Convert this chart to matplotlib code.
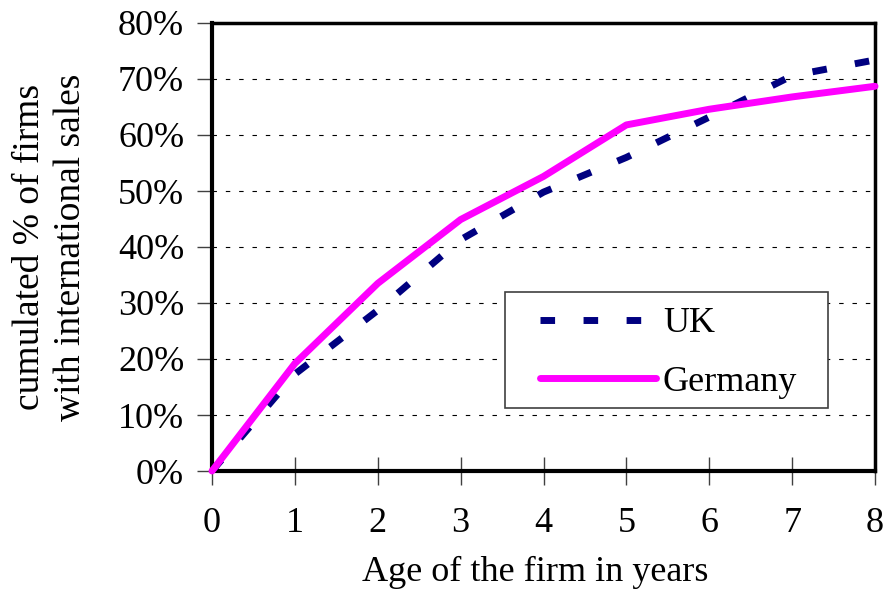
import matplotlib
matplotlib.use("Agg")
import matplotlib.pyplot as plt
from matplotlib.patches import Rectangle
from matplotlib.ticker import FuncFormatter

years = [0, 1, 2, 3, 4, 5, 6, 7, 8]
uk = [0.0, 17.3, 28.7, 41.3, 49.8, 56.0, 63.2, 70.6, 73.4]
germany = [0.0, 19.2, 33.5, 44.9, 52.6, 61.8, 64.6, 66.8, 68.7]
y_ticks = [0, 10, 20, 30, 40, 50, 60, 70, 80]

plt.rcParams['font.family'] = ['Liberation Serif', 'DejaVu Serif']

W, H = 886, 602
fig = plt.figure(figsize=(W/100, H/100), dpi=100)
L, R, T, B = 212, 875, 23, 471
ax = fig.add_axes([L/W, 1-B/H, (R-L)/W, (B-T)/H])

def ax_x(px):
    return (px - L) / (R - L)

def ax_y(py):
    return (B - py) / (B - T)

ax.set_xlim(0, 8)
ax.set_ylim(0, 80)

for yv in y_ticks[1:-1]:
    ax.axhline(yv, color='black', lw=0.8, dashes=(4, 8), zorder=1)

uk_line, = ax.plot(years, uk, color='#000080', lw=5, dash_capstyle='butt',
                   label='UK', zorder=3)
uk_line.set_dashes((2.1, 4.1))
ax.plot(years, germany, color='#FF00FF', lw=5, solid_capstyle='round',
        label='Germany', zorder=4, clip_on=False)

ax.set_xticks(years)
ax.set_yticks(y_ticks)
ax.yaxis.set_major_formatter(FuncFormatter(lambda v, p: f"{int(v)}%"))
ax.tick_params(axis='x', direction='inout', length=20, width=1, color='#404040',
               labelsize=26, pad=16)
ax.tick_params(axis='y', direction='out', length=11, width=1, color='#404040',
               labelsize=26, pad=9)

for s in ['left', 'bottom']:
    ax.spines[s].set_linewidth(3)
for s in ['top', 'right']:
    ax.spines[s].set_linewidth(2.5)
for s in ax.spines.values():
    s.set_zorder(2)

ax.set_xlabel('Age of the firm in years', fontsize=26)
ax.xaxis.set_label_coords(ax_x(535), ax_y(556))
ax.xaxis.label.set_va('top')
ax.set_ylabel('cumulated % of firms\nwith international sales', fontsize=27,
              linespacing=1.25)
ax.yaxis.set_label_coords(ax_x(88), 0.5)

# legend box
box = Rectangle((ax_x(505), ax_y(408)), ax_x(828) - ax_x(505), ax_y(292) - ax_y(408),
                transform=ax.transAxes, facecolor='white', edgecolor='#404040',
                lw=1.2, zorder=5)
ax.add_patch(box)
leg = ax.legend(loc='upper left', bbox_to_anchor=(ax_x(540), ax_y(307)),
                fontsize=26, frameon=False, handlelength=3.2,
                handletextpad=0.2, borderpad=0, labelspacing=0.7,
                borderaxespad=0)
leg.set_zorder(6)

fig.savefig('out.png', dpi=100)
